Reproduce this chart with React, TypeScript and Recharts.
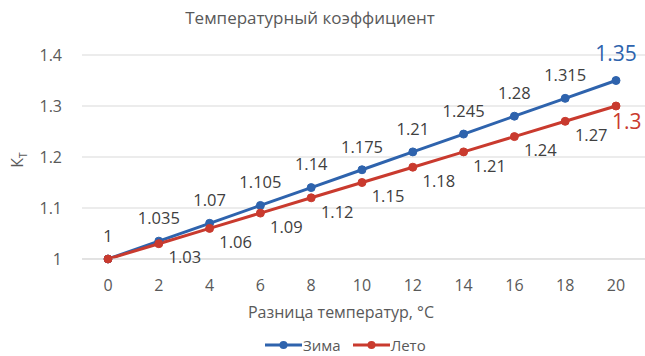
import React from 'react';
import { LineChart, Line, XAxis, YAxis, CartesianGrid, Legend, LabelList, Label } from 'recharts';

const temps = [0, 2, 4, 6, 8, 10, 12, 14, 16, 18, 20];
const zima = [1, 1.035, 1.07, 1.105, 1.14, 1.175, 1.21, 1.245, 1.28, 1.315, 1.35];
const leto = [1, 1.03, 1.06, 1.09, 1.12, 1.15, 1.18, 1.21, 1.24, 1.27, 1.3];
const yTicks = [1, 1.1, 1.2, 1.3, 1.4];
const title = 'Температурный коэффициент';
const xTitle = 'Разница температур, °С';
const seriesNames = { zima: 'Зима', leto: 'Лето' };

const BLUE = '#2E63AD';
const RED = '#C93A2E';
const TXT = '#595959';
const LBL = '#404040';
const FONT = '"Open Sans", sans-serif';

const data = temps.map((t, i) => ({ t, zima: zima[i], leto: leto[i] }));
const last = temps.length - 1;

const ZimaLabel = (props: any) => {
  const { x, y, value, index } = props;
  if (index === last) {
    return (
      <text x={x} y={y - 27} dy="0.35em" textAnchor="middle" fill={BLUE} fontSize={21} fontFamily={FONT}>
        {value}
      </text>
    );
  }
  return (
    <text x={x} y={y - 23} dy="0.35em" textAnchor="middle" fill={LBL} fontSize={16.5} fontFamily={FONT}>
      {value}
    </text>
  );
};

const LetoLabel = (props: any) => {
  const { x, y, value, index } = props;
  if (index === 0) return null;
  if (index === last) {
    return (
      <text x={x - 4} y={y + 16} dy="0.35em" textAnchor="start" fill={RED} fontSize={21} fontFamily={FONT}>
        {value}
      </text>
    );
  }
  return (
    <text x={x + 26} y={y + 14} dy="0.35em" textAnchor="middle" fill={LBL} fontSize={16.5} fontFamily={FONT}>
      {value}
    </text>
  );
};

const renderLegend = () => (
  <div style={{ display: 'flex', alignItems: 'center', height: 20, fontFamily: FONT, fontSize: 15, lineHeight: '20px', color: TXT }}>
    {[
      { name: seriesNames.zima, color: BLUE },
      { name: seriesNames.leto, color: RED },
    ].map((s, i) => (
      <span key={s.name} style={{ display: 'flex', alignItems: 'center', marginRight: i === 0 ? 12 : 0 }}>
        <svg width={37} height={10} style={{ display: 'block' }}>
          <line x1={0} x2={37} y1={5} y2={5} stroke={s.color} strokeWidth={3} />
          <circle cx={18.5} cy={5} r={4} fill={s.color} />
        </svg>
        <span style={{ marginLeft: 1 }}>{s.name}</span>
      </span>
    ))}
  </div>
);

const YLabel = () => (
  <text x={17} y={160} transform="rotate(-90 17 160)" textAnchor="middle" dy="0.35em" fill={TXT} fontSize={16} fontFamily={FONT}>
    К<tspan fontSize={10} dy={4}>Т</tspan>
  </text>
);

const XLabel = () => (
  <text x={341} y={312} dy="0.35em" textAnchor="middle" fill={TXT} fontSize={16} fontFamily={FONT}>
    {xTitle}
  </text>
);

export default function App() {
  return (
    <div style={{ position: 'absolute', left: 0, top: 0, width: 645, height: 356, background: '#fff', overflow: 'hidden' }}>
      <div
        style={{
          position: 'absolute',
          left: 0,
          width: 620,
          top: 6,
          textAlign: 'center',
          fontFamily: FONT,
          fontSize: 17,
          color: TXT,
          lineHeight: '24px',
          zIndex: 2,
        }}
      >
        {title}
      </div>
      <LineChart width={645} height={356} data={data} margin={{ top: 55, right: 0, bottom: 0, left: 0 }} style={{ fontFamily: FONT }}>
        <CartesianGrid vertical={false} stroke="#D9D9D9" strokeWidth={1} />
        <XAxis
          dataKey="t"
          type="category"
          height={77}
          padding={{ left: 26, right: 29 }}
          tickLine={false}
          tickSize={0}
          tickMargin={21}
          axisLine={{ stroke: '#D9D9D9' }}
          tick={{ fill: TXT, fontSize: 16, fontFamily: FONT }}
          label={<Label content={XLabel} />}
        />
        <YAxis
          domain={[1, 1.4]}
          ticks={yTicks}
          width={82}
          axisLine={false}
          tickLine={false}
          tickSize={0}
          tickMargin={20}
          tick={{ fill: TXT, fontSize: 16, fontFamily: FONT }}
          tickFormatter={(v: number) => String(v)}
          label={<Label content={YLabel} />}
        />
        <Legend
          verticalAlign="bottom"
          content={renderLegend}
          wrapperStyle={{ position: 'absolute', left: 265, top: 335, width: 220, height: 20 }}
        />
        <Line
          type="linear"
          dataKey="zima"
          name={seriesNames.zima}
          stroke={BLUE}
          strokeWidth={3}
          dot={{ r: 4, fill: BLUE, stroke: BLUE, strokeWidth: 1 }}
          isAnimationActive={false}
        >
          <LabelList dataKey="zima" content={ZimaLabel} />
        </Line>
        <Line
          type="linear"
          dataKey="leto"
          name={seriesNames.leto}
          stroke={RED}
          strokeWidth={3}
          dot={{ r: 4, fill: RED, stroke: RED, strokeWidth: 1 }}
          isAnimationActive={false}
        >
          <LabelList dataKey="leto" content={LetoLabel} />
        </Line>
      </LineChart>
    </div>
  );
}
